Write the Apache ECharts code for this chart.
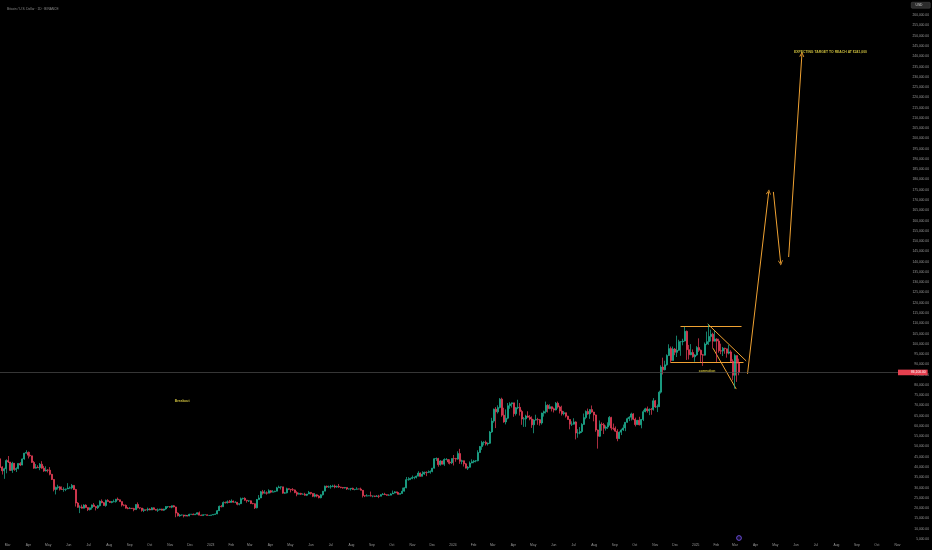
<!DOCTYPE html>
<html><head><meta charset="utf-8">
<script src="https://cdn.jsdelivr.net/npm/echarts@6/dist/echarts.min.js"></script>
<style>html,body{margin:0;padding:0;background:#000;}#c{width:932px;height:550px;}</style>
</head><body><div id="c"></div>
<script>
const K = 1000;
const firstBucketStart = '2022-02-17';
const bucketDays = 3;

const opens = [
43.9,40.1,38.2,39.2,43.2,42.5,38.4,41.9,38.8,39.3,
41.8,41.0,44.0,46.8,47.1,45.8,45.5,42.3,39.5,39.9,
39.7,41.4,39.5,38.1,38.6,38.5,36.5,34.0,29.1,30.1,
30.4,29.2,29.1,29.2,29.4,29.8,29.9,31.1,29.1,22.5,
20.4,20.6,20.0,21.5,20.3,19.3,20.2,21.6,20.8,20.2,
21.2,23.4,22.7,21.3,23.8,23.3,22.8,23.2,23.2,24.4,
24.1,23.2,21.5,21.4,20.0,19.8,20.0,19.8,19.3,21.8,
20.2,20.1,18.9,19.3,19.2,19.6,19.1,20.2,19.4,19.0,
19.2,19.6,19.0,19.6,20.8,20.8,20.5,21.2,20.6,17.6,
16.3,16.7,16.7,16.2,16.5,16.2,17.0,17.1,16.8,17.1,
17.8,16.6,16.4,16.8,16.8,16.5,16.5,16.7,16.95,17.2,
18.8,20.9,20.7,22.8,22.6,23.1,22.8,23.5,22.9,22.9,
21.9,22.2,24.6,24.8,23.9,23.6,23.6,22.3,22.2,20.2,
24.2,25.0,28.0,27.3,27.5,27.3,28.5,27.8,28.0,28.3,
29.9,30.3,30.4,27.3,27.5,29.5,29.2,29.0,28.9,27.6,
26.8,27.2,26.8,26.8,26.3,26.9,27.7,27.2,25.8,26.5,
25.9,25.1,26.5,28.3,30.7,30.3,30.4,30.6,30.8,30.3,
30.6,30.3,30.1,29.8,30.1,29.35,29.4,29.7,29.1,29.2,
29.4,29.3,28.7,26.1,25.9,26.0,26.1,25.9,25.95,25.75,
25.9,25.8,26.6,26.8,26.6,26.3,26.35,26.97,27.4,27.95,
27.6,26.75,27.15,28.3,29.9,33.9,33.9,34.5,34.9,35.0,
35.6,37.1,35.5,36.6,37.5,37.3,37.45,37.85,39.5,44.1,
44.2,41.2,43.0,41.4,43.7,43.7,42.5,42.1,44.2,44.15,
43.9,46.6,42.8,43.1,41.6,39.5,39.9,42.0,42.6,43.0,
43.1,47.1,50.0,52.0,52.1,51.3,51.6,57.1,62.4,68.2,
66.9,69.0,73.1,65.3,62.0,63.8,69.9,70.8,71.3,66.0,
68.9,69.1,67.1,63.4,63.5,64.9,64.3,63.4,60.6,62.9,
63.2,63.1,61.5,66.3,67.0,70.1,68.5,69.4,68.4,67.8,
71.1,69.3,67.3,66.0,66.5,64.8,63.2,60.9,60.9,62.0,
56.6,56.6,57.3,60.8,64.1,67.1,65.9,68.0,66.8,65.4,
58.1,55.0,60.9,60.6,58.9,59.5,60.4,64.2,59.0,58.9,
57.5,53.9,57.0,58.1,59.1,61.8,63.6,64.3,65.9,63.3,
60.7,62.8,60.6,63.2,67.0,68.4,67.4,68.2,68.0,72.3,
69.3,69.4,76.5,88.7,87.4,89.8,94.3,97.7,91.9,97.5,
95.9,96.9,101.1,101.1,101.4,106.1,97.2,94.7,95.8,93.7,
94.6,98.2,96.9,94.7,94.5,99.9,101.1,103.6,104.7,101.3,
102.4,101.4,96.6,96.5,97.9,97.6,95.5,96.1,91.5,84.7,
94.3,90.6];

const highs = [
44.2,40.4,39.7,43.8,45.4,42.5,42.6,42.0,39.9,41.9,
42.4,44.2,46.9,48.2,47.6,47.4,45.5,43.0,41.5,40.9,
42.0,42.9,40.6,40.4,39.0,40.0,36.7,34.2,30.5,31.4,
30.7,30.6,30.2,29.5,32.2,30.6,31.8,31.3,29.4,23.0,
21.4,21.7,21.9,21.9,20.4,20.3,21.8,22.5,20.9,21.6,
23.8,24.3,23.0,24.2,24.4,23.5,23.5,24.2,24.5,25.2,
24.2,23.2,21.9,21.8,20.6,20.5,20.1,20.2,21.9,22.8,
20.3,20.1,19.9,19.3,20.3,20.0,20.5,20.4,19.6,19.9,
19.7,19.7,19.7,21.0,21.0,20.9,21.3,21.5,20.7,18.0,
17.2,16.9,16.8,16.8,16.7,17.3,17.2,17.4,17.3,18.0,
18.4,16.9,17.0,16.9,16.9,16.7,16.8,17.0,17.4,19.1,
21.3,21.6,23.3,23.2,23.8,24.0,24.3,23.7,23.4,23.0,
22.3,25.2,25.1,25.3,24.0,23.9,23.8,22.6,22.3,24.5,
26.4,28.4,28.9,28.8,28.2,29.2,28.8,28.8,28.5,30.4,
31.0,30.5,30.4,27.9,30.0,29.6,29.3,29.8,29.1,28.3,
27.6,27.5,27.2,27.5,26.9,28.4,27.8,27.3,27.4,26.8,
26.4,26.8,28.4,31.0,31.0,31.0,31.3,31.4,31.5,31.0,
31.8,30.4,30.2,30.3,30.1,29.6,29.7,30.0,29.2,30.2,
29.5,30.0,28.8,26.3,26.8,26.2,28.1,26.1,26.1,26.4,
26.5,26.8,27.4,27.5,26.7,26.8,27.3,28.6,28.3,28.0,
27.7,27.3,30.0,30.2,35.2,35.1,34.8,35.9,35.4,35.9,
38.0,37.4,38.0,37.8,37.9,38.4,38.4,39.6,44.4,44.7,
44.5,43.4,43.1,44.3,44.4,43.9,43.8,44.2,45.9,44.5,
47.7,48.9,43.6,43.2,42.0,40.5,42.8,43.8,43.5,43.4,
48.2,50.3,52.8,52.6,52.9,52.0,57.6,64.0,68.5,69.2,
70.1,73.6,73.8,68.9,68.1,71.2,71.6,71.4,71.3,69.3,
72.8,71.2,67.9,64.4,65.5,67.2,65.3,64.7,63.3,65.5,
64.0,63.4,66.5,67.5,71.9,70.6,70.6,69.5,69.0,71.7,
71.9,69.9,69.9,67.3,66.5,65.0,63.4,62.3,63.8,62.3,
58.5,59.5,61.4,66.1,67.6,68.5,68.2,70.0,66.9,65.6,
58.3,62.7,61.8,61.5,60.3,61.8,64.9,64.5,61.2,59.8,
58.5,57.4,58.7,60.7,61.8,64.1,64.8,66.5,66.3,64.1,
63.0,64.5,63.4,67.9,68.9,69.5,68.6,68.8,73.6,72.7,
70.5,77.2,89.6,93.3,91.8,94.9,99.8,98.7,98.7,98.0,
104.0,102.0,101.3,102.5,108.3,106.5,99.5,99.9,97.3,95.0,
98.9,102.7,97.3,95.1,100.7,106.0,109.6,106.9,105.4,106.4,
102.8,102.5,100.1,98.5,98.1,97.7,99.5,96.9,92.5,95.0,
94.4,92.8];

const lows = [
39.6,36.4,34.3,37.0,42.0,38.1,37.2,38.2,37.6,38.9,
40.5,40.9,43.6,46.6,44.2,45.1,42.1,39.2,39.3,39.6,
38.5,39.2,37.7,37.9,37.4,36.0,33.7,28.2,26.7,29.1,
28.6,28.9,28.0,28.3,29.3,29.5,29.2,28.9,20.8,20.2,
17.6,19.8,19.9,20.2,18.6,18.9,19.3,20.7,18.9,19.6,
20.8,22.4,21.2,20.7,23.2,22.6,22.4,22.9,22.7,23.8,
23.2,20.8,20.9,19.8,19.5,19.6,19.6,18.5,19.3,19.9,
19.5,18.3,18.1,18.7,18.5,19.0,19.1,19.3,18.9,18.2,
19.0,18.9,18.7,19.2,20.1,20.3,20.0,20.4,15.6,16.0,
15.8,16.4,15.5,16.1,16.0,16.1,16.8,16.7,16.7,16.9,
16.6,16.3,16.4,16.7,16.4,16.3,16.5,16.6,16.9,17.1,
18.7,20.4,20.7,22.3,22.3,22.6,22.7,22.7,22.6,21.4,
21.4,22.0,24.2,23.6,22.7,23.0,22.0,21.9,19.6,19.9,
24.1,24.9,26.6,27.2,26.6,27.3,27.3,27.8,27.8,28.2,
29.9,29.1,27.1,27.0,27.2,28.9,27.7,28.4,27.3,25.8,
26.7,26.4,26.6,26.1,25.9,26.9,26.6,25.4,25.3,25.3,
24.8,24.8,26.2,28.3,29.9,29.9,29.5,30.2,29.7,29.95,
29.9,29.7,29.5,29.6,28.9,29.1,28.6,28.9,28.7,29.1,
29.2,28.7,25.2,25.4,25.8,25.9,25.7,25.3,25.4,25.6,
24.9,25.8,26.4,26.4,26.1,26.0,26.3,26.9,27.2,27.3,
26.6,26.7,27.1,28.1,29.7,33.4,33.9,34.1,34.1,34.5,
35.5,35.3,35.5,36.2,35.6,37.2,36.8,37.5,39.3,43.0,
40.2,40.7,41.3,40.6,43.3,41.6,41.3,41.5,40.8,42.6,
43.6,41.6,41.4,40.3,39.4,38.6,39.8,41.9,41.9,42.3,
42.8,47.0,48.4,50.6,50.5,50.5,51.3,56.7,61.6,59.0,
66.1,68.6,64.5,61.6,60.8,63.3,68.4,69.0,64.5,65.1,
68.2,65.1,60.6,59.6,59.6,64.0,62.8,59.1,56.5,62.7,
60.6,60.2,60.7,64.6,66.1,66.6,68.2,67.1,66.6,67.6,
68.5,66.1,65.1,65.2,64.1,63.2,58.4,60.0,60.7,53.5,
54.3,56.0,56.6,60.6,63.3,65.5,63.5,66.5,62.3,57.2,
49.0,54.7,57.7,56.1,57.8,58.6,60.3,57.9,58.0,57.2,
52.6,53.7,55.6,57.6,57.5,61.6,62.4,62.7,62.9,59.8,
60.5,60.3,58.9,62.4,66.7,66.5,65.3,65.5,67.5,68.8,
66.8,69.3,75.8,85.1,87.1,89.4,94.1,90.8,91.8,94.5,
93.6,96.6,94.2,99.3,101.2,92.2,92.4,94.5,93.3,91.3,
94.2,96.1,91.2,89.3,94.3,99.4,99.5,101.2,97.8,101.2,
91.2,95.7,95.0,94.1,95.2,93.3,94.9,91.2,82.3,78.2,
81.5,84.7];

const closes = [
40.1,38.2,39.2,43.2,42.5,38.4,41.9,38.8,39.3,41.8,
41.0,44.0,46.8,47.1,45.8,45.5,42.3,39.5,39.9,39.7,
41.4,39.5,38.1,38.6,38.5,36.5,34.0,29.1,30.1,30.4,
29.2,29.1,29.2,29.4,29.8,29.9,31.1,29.1,22.5,20.4,
20.6,20.0,21.5,20.3,19.3,20.2,21.6,20.8,20.2,21.2,
23.4,22.7,21.3,23.8,23.3,22.8,23.2,23.2,24.4,24.1,
23.2,21.5,21.4,20.0,19.8,20.0,19.8,19.3,21.8,20.2,
20.1,18.9,19.3,19.2,19.6,19.1,20.2,19.4,19.0,19.2,
19.6,19.0,19.6,20.8,20.8,20.5,21.2,20.6,17.6,16.3,
16.7,16.7,16.2,16.5,16.2,17.0,17.1,16.8,17.1,17.8,
16.6,16.4,16.8,16.8,16.5,16.5,16.7,16.95,17.2,18.8,
20.9,20.7,22.8,22.6,23.1,22.8,23.5,22.9,22.9,21.9,
22.2,24.6,24.8,23.9,23.6,23.6,22.3,22.2,20.2,24.2,
25.0,28.0,27.3,27.5,27.3,28.5,27.8,28.0,28.3,29.9,
30.3,30.4,27.3,27.5,29.5,29.2,29.0,28.9,27.6,26.8,
27.2,26.8,26.8,26.3,26.9,27.7,27.2,25.8,26.5,25.9,
25.1,26.5,28.3,30.7,30.3,30.4,30.6,30.8,30.3,30.6,
30.3,30.1,29.8,30.1,29.35,29.4,29.7,29.1,29.2,29.4,
29.3,28.7,26.1,25.9,26.0,26.1,25.9,25.95,25.75,25.9,
25.8,26.6,26.8,26.6,26.3,26.35,26.97,27.4,27.95,27.6,
26.75,27.15,28.3,29.9,33.9,33.9,34.5,34.9,35.0,35.6,
37.1,35.5,36.6,37.5,37.3,37.45,37.85,39.5,44.1,44.2,
41.2,43.0,41.4,43.7,43.7,42.5,42.1,44.2,44.15,43.9,
46.6,42.8,43.1,41.6,39.5,39.9,42.0,42.6,43.0,43.1,
47.1,50.0,52.0,52.1,51.3,51.6,57.1,62.4,68.2,66.9,
69.0,73.1,65.3,62.0,63.8,69.9,70.8,71.3,66.0,68.9,
69.1,67.1,63.4,63.5,64.9,64.3,63.4,60.6,62.9,63.2,
63.1,61.5,66.3,67.0,70.1,68.5,69.4,68.4,67.8,71.1,
69.3,67.3,66.0,66.5,64.8,63.2,60.9,60.9,62.0,56.6,
56.6,57.3,60.8,64.1,67.1,65.9,68.0,66.8,65.4,58.1,
55.0,60.9,60.6,58.9,59.5,60.4,64.2,59.0,58.9,57.5,
53.9,57.0,58.1,59.1,61.8,63.6,64.3,65.9,63.3,60.7,
62.8,60.6,63.2,67.0,68.4,67.4,68.2,68.0,72.3,69.3,
69.4,76.5,88.7,87.4,89.8,94.3,97.7,91.9,97.5,95.9,
96.9,101.1,101.1,101.4,106.1,97.2,94.7,95.8,93.7,94.6,
98.2,96.9,94.7,94.5,99.9,101.1,103.6,104.7,101.3,102.4,
101.4,96.6,96.5,97.9,97.6,95.5,96.1,91.5,84.7,94.3,
90.6,86.1];

const monthNames = ['Jan','Feb','Mar','Apr','May','Jun','Jul','Aug','Sep','Oct','Nov','Dec'];
const firstMonthTick = '2022-03-01';
const lastMonthTick = '2025-11-01';

// Drawn annotations: [date, price in thousands]
const flagLines = [
  [['2024-12-09',108.7],['2025-03-11',108.7]],
  [['2024-11-24',91.2],['2025-03-14',91.2]],
  [['2025-01-19',109.7],['2025-03-18',91.7]],
  [['2025-01-27',97.9],['2025-03-03',78.0]]
];
const arrowLines = [
  [['2025-03-20',85.4],['2025-04-21',174.0]],
  [['2025-04-28',174.0],['2025-05-09',139.4]],
  [['2025-05-21',142.3],['2025-06-10',241.0]]
];
const noteTexts = ['EXPECTING TARGET TO REACH AT $241,000','correction','Breakout'];
const notePoints = [['2025-07-23',242.1],['2025-01-18',86.8],['2022-11-19',72.2]];

const titleText = 'Bitcoin / U.S. Dollar · 1D · BINANCE';

const DAY = 86400000;
function t(s){const p=s.split('-').map(Number);return Date.UTC(p[0],p[1]-1,p[2]);}
const start = t(firstBucketStart);
const candles = closes.map((c,i)=>[start+(i*bucketDays+1)*DAY, opens[i]*K, c*K, lows[i]*K, highs[i]*K]);
const lastClose = closes[closes.length-1]*K;

const monthTicks = [];
{
  const b = t(lastMonthTick);
  let d = new Date(t(firstMonthTick));
  while (d.getTime() <= b) { monthTicks.push(d.getTime()); d = new Date(Date.UTC(d.getUTCFullYear(), d.getUTCMonth()+1, 1)); }
}
const toLine = seg => ({coords: seg.map(p=>[t(p[0]), p[1]*K])});

const fmtPrice = v => Number(v).toLocaleString('en-US',{minimumFractionDigits:2,maximumFractionDigits:2});
const FONT = '"Liberation Sans", Arial, sans-serif';
const UP = '#1fb596', DOWN = '#f0405a', ORANGE = '#f0a232', YELLOW = '#f3e24a', AXIS_TXT = '#9b9b9b';
const chevron = 'path://M0,8 L5,0 L10,8 L8.4,8 L5,2.6 L1.6,8 Z';

const chart = echarts.init(document.getElementById('c'), null, {renderer:'canvas'});
chart.setOption({
  backgroundColor: '#000000',
  animation: false,
  title: {text: titleText, left: 2, top: 3, textStyle: {fontSize: 3.2, color: '#8d8d8d', fontWeight: 'normal', fontFamily: FONT}},
  grid: {left: 0, right: 34, top: 5, bottom: 11},
  xAxis: {
    type: 'value',
    min: Date.UTC(2022,1,17,10), max: Date.UTC(2025,10,1,19,36),
    axisLine: {show: false}, axisTick: {show: false}, splitLine: {show: false},
    axisLabel: {
      customValues: monthTicks, margin: 5, fontSize: 3.3, color: AXIS_TXT, fontFamily: FONT,
      showMinLabel: true, showMaxLabel: true,
      formatter: v => { const d = new Date(v); return d.getUTCMonth()===0 ? String(d.getUTCFullYear()) : monthNames[d.getUTCMonth()]; }
    }
  },
  yAxis: {
    type: 'value', position: 'right', min: 5000, max: 265000, interval: 5000,
    axisLine: {show: false}, axisTick: {show: false}, splitLine: {show: false},
    axisLabel: {showMaxLabel: false, align: 'right', margin: 31, fontSize: 3.3, color: AXIS_TXT, fontFamily: FONT, formatter: fmtPrice}
  },
  series: [
    {
      type: 'candlestick', data: candles, barWidth: 1.5, silent: true,
      itemStyle: {color: UP, color0: DOWN, borderColor: UP, borderColor0: DOWN, borderColorDoji: UP, borderWidth: 0.7, opacity: 1},
      markLine: {
        silent: true, symbol: 'none', animation: false,
        lineStyle: {color: '#4d4d4d', width: 0.7, type: 'solid'},
        label: {position: 'end', distance: 0, formatter: () => fmtPrice(lastClose), backgroundColor: '#e5404f', color: '#ffffff', fontSize: 3.3, fontFamily: FONT, padding: [1.4, 2, 1.2, 13]},
        data: [{yAxis: lastClose}]
      }
    },
    {
      type: 'lines', coordinateSystem: 'cartesian2d', silent: true,
      lineStyle: {color: ORANGE, width: 1, opacity: 1}, symbol: 'none',
      data: flagLines.map(toLine)
    },
    {
      type: 'lines', coordinateSystem: 'cartesian2d', silent: true,
      lineStyle: {color: ORANGE, width: 1, opacity: 1}, symbol: ['none', chevron], symbolSize: 5,
      data: arrowLines.map(toLine)
    },
    {
      type: 'scatter', silent: true, symbolSize: 1, itemStyle: {color: 'rgba(0,0,0,0)'},
      label: {show: true, position: 'inside', formatter: p => p.name, color: YELLOW, fontSize: 3.4, fontWeight: 'bold', fontFamily: FONT},
      data: noteTexts.map((s,i)=>({name: s, value: [t(notePoints[i][0]), notePoints[i][1]*K]}))
    }
  ],
  graphic: [
    {type: 'rect', left: 911, top: 2, shape: {width: 19, height: 6, r: 1}, style: {fill: '#2c2c2c', stroke: '#4d4d4d', lineWidth: 0.5}, silent: true},
    {type: 'text', left: 915.5, top: 3.2, style: {text: 'USD', fill: '#d4d4d4', font: '3.3px ' + FONT}, silent: true},
    {type: 'circle', shape: {cx: 739, cy: 538, r: 2.4}, style: {fill: '#160d2e', stroke: '#7c5cff', lineWidth: 0.8}, silent: true}
  ]
});
</script>
</body></html>
